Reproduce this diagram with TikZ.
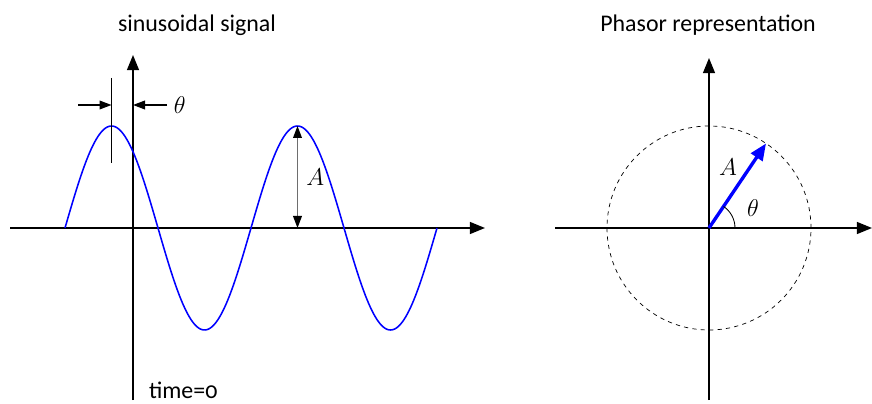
\documentclass[tikz,border=0pt]{standalone}
\usepackage{fontspec}
\setmainfont{Carlito}[Numbers=OldStyle]
\usetikzlibrary{arrows.meta, positioning, calc}
\definecolor{sigblue}{RGB}{0, 0, 255}
\definecolor{dimgray}{RGB}{110, 110, 110}

\begin{document}
\begin{tikzpicture}[
        axis/.style={-{Triangle[length=0.38cm, width=0.3cm]}, line width=1.1pt},
        wave/.style={draw=sigblue, line width=1.1pt},
        mark line/.style={line width=1.1pt},
        pointer/.style={-{Triangle[length=0.3cm, width=0.22cm]}, line width=0.8pt},
        ampl/.style={{Triangle[length=0.3cm, width=0.22cm, color=black]}-{Triangle[length=0.3cm, width=0.22cm, color=black]}, draw=dimgray, line width=0.8pt},
        phasor/.style={-{Triangle[length=0.42cm, width=0.34cm]}, draw=sigblue, line width=2.4pt},
        title/.style={font=\fontsize{17}{20}\selectfont},
        sym/.style={font=\LARGE}
    ]
        \useasboundingbox (0,0) rectangle (21.8,10.075);

        % sinusoidal signal
        \coordinate (xl) at (0.25,4.375);
        \coordinate (xr) at (12.125,4.375);
        \coordinate (yb) at (3.325,0.075);
        \coordinate (yt) at (3.325,8.7);
        \draw[axis] (xl) -- (xr);
        \draw[axis] (yb) -- (yt);
        \draw[wave, domain=1.625:10.925, samples=240, smooth]
            plot (\x, {4.375+2.55*sin(360*(\x-1.625)/4.65)});

        % phase shift
        \coordinate (mtop) at (2.7875,8.125);
        \coordinate (mbot) at (2.7875,6.0);
        \draw[mark line] (mtop) -- (mbot);
        \coordinate (mk) at (2.7875,7.45);
        \coordinate (ax) at (3.325,7.45);
        \coordinate (pl) at (1.95,7.45);
        \coordinate (pr) at (4.175,7.45);
        \draw[pointer] (pl) -- (mk);
        \draw[pointer] (pr) -- (ax);
        \node[sym, right=0.05cm of pr] (theta1) {$\theta$};

        % amplitude
        \coordinate (peak) at (7.4375,6.925);
        \coordinate (base) at (7.4375,4.375);
        \draw[ampl] (base) -- (peak);
        \node[sym, right=0.1cm] (amp1) at ($(base)!0.5!(peak)$) {$A$};

        \node[title] (sig) at (4.925,9.45) {sinusoidal signal};
        \node[title, anchor=base west, inner sep=0pt] (t0) at (3.72,0.12) {time=0};

        % phasor representation
        \coordinate (o) at (17.725,4.375);
        \coordinate (hl) at (13.875,4.375);
        \coordinate (hr) at (21.8,4.375);
        \coordinate (vb) at (17.725,0.075);
        \coordinate (vt) at (17.725,8.625);
        \draw[axis] (hl) -- (hr);
        \draw[axis] (vb) -- (vt);
        \draw[dashed, line width=0.5pt] (o) circle (2.55);
        \coordinate (tip) at ($(o)+(56:2.55)$);
        \draw[phasor] (o) -- (tip);
        \draw[line width=0.6pt] ($(o)+(0.65,0)$) arc (0:56:0.65);
        \node[sym] (theta2) at (18.825,4.875) {$\theta$};
        \node[sym] (amp2) at (18.2,5.9) {$A$};

        \node[title] (pha) at (17.7,9.45) {Phasor representation};
    \end{tikzpicture}
\end{document}
